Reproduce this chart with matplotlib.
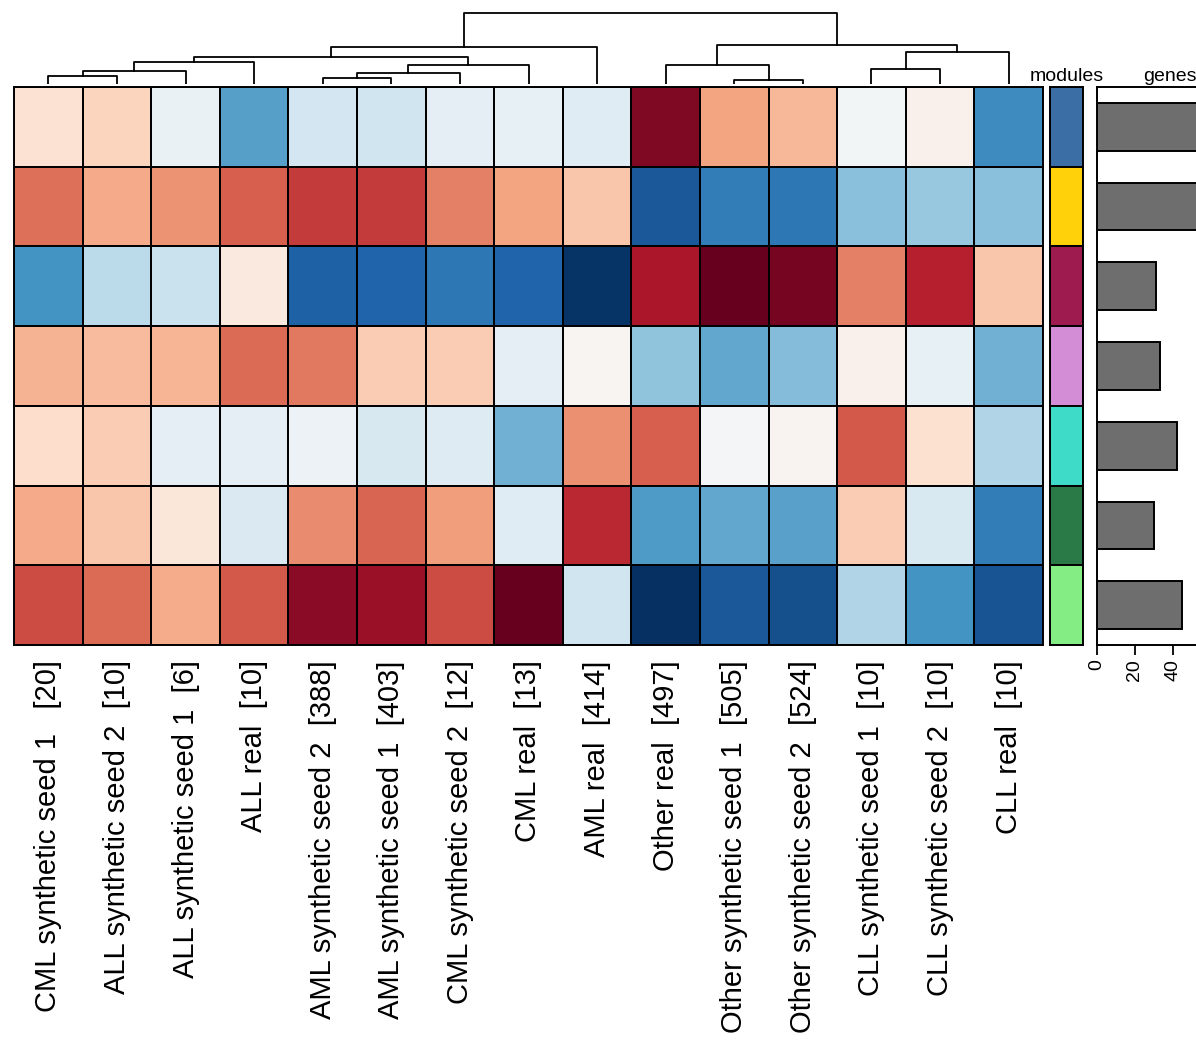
import numpy as np
import matplotlib
matplotlib.use("Agg")
import matplotlib.pyplot as plt

plt.rcParams['font.family'] = ['Liberation Sans', 'DejaVu Sans']

samples = ["CML synthetic seed 1   [20]", "ALL synthetic seed 2  [10]", "ALL synthetic seed 1  [6]",
           "ALL real  [10]", "AML synthetic seed 2  [388]", "AML synthetic seed 1  [403]",
           "CML synthetic seed 2  [12]", "CML real  [13]", "AML real  [414]", "Other real  [497]",
           "Other synthetic seed 1  [505]", "Other synthetic seed 2  [524]", "CLL synthetic seed 1  [10]",
           "CLL synthetic seed 2  [10]", "CLL real  [10]"]

# module scores, one row per module (top to bottom), columns in sample order
scores = np.array([
    [0.15, 0.22, -0.07, -0.55, -0.18, -0.20, -0.10, -0.08, -0.12, 0.93, 0.40, 0.33, -0.03, 0.05, -0.63],
    [0.55, 0.38, 0.45, 0.60, 0.70, 0.70, 0.50, 0.40, 0.28, -0.85, -0.70, -0.72, -0.42, -0.38, -0.42],
    [-0.60, -0.27, -0.22, 0.10, -0.82, -0.80, -0.72, -0.80, -0.98, 0.82, 1.00, 0.96, 0.50, 0.78, 0.28],
    [0.35, 0.32, 0.34, 0.57, 0.53, 0.25, 0.25, -0.10, 0.02, -0.40, -0.52, -0.43, 0.05, -0.08, -0.48],
    [0.18, 0.25, -0.10, -0.10, -0.06, -0.17, -0.13, -0.48, 0.46, 0.60, -0.02, 0.03, 0.61, 0.16, -0.30],
    [0.38, 0.28, 0.12, -0.15, 0.47, 0.58, 0.42, -0.12, 0.75, -0.57, -0.52, -0.54, 0.25, -0.16, -0.70],
    [0.65, 0.57, 0.37, 0.61, 0.90, 0.86, 0.65, 1.00, -0.20, -1.00, -0.85, -0.88, -0.30, -0.60, -0.86],
])

module_colors = ["#3a6ea5", "#ffd10a", "#9e1b4f", "#d38cd6", "#3ddbc8", "#2a7a48", "#84ee84"]
genes = [62, 58, 31, 33, 42, 30, 45]
gene_ticks = [0, 20, 40]

# column dendrogram: (left, right, height); new nodes numbered from 15 upward
merges = [
    (0, 1, 8), (15, 2, 13), (16, 3, 22), (4, 5, 6), (18, 6, 11), (19, 7, 19),
    (17, 20, 27), (21, 8, 37), (10, 11, 4), (9, 23, 19), (12, 13, 15), (25, 14, 32),
    (24, 26, 39), (22, 27, 71),
]

W, H = 1196, 1053
fig = plt.figure(figsize=(W / 100, H / 100), dpi=100)


def box(x0, y0, x1, y1):
    return [x0 / W, 1 - y1 / H, (x1 - x0) / W, (y1 - y0) / H]


nrow, ncol = scores.shape

# heatmap
ax = fig.add_axes(box(14, 87, 1043, 645))
ax.pcolormesh(scores, cmap="RdBu_r", vmin=-1, vmax=1, edgecolors="black", linewidth=1.4)
ax.set_xlim(0, ncol)
ax.set_ylim(nrow, 0)
ax.set_yticks([])
ax.set_xticks(np.arange(ncol) + 0.5)
ax.set_xticklabels(samples, rotation=90, fontsize=21, va="top")
ax.tick_params(axis="x", length=0, pad=11)
for s in ax.spines.values():
    s.set_linewidth(1.4)

# dendrogram
axd = fig.add_axes(box(14, 10, 1043, 84))
pos = {i: i + 0.5 for i in range(ncol)}
hgt = {i: 0 for i in range(ncol)}
for k, (a, b, h) in enumerate(merges):
    axd.plot([pos[a], pos[a], pos[b], pos[b]], [hgt[a], h, h, hgt[b]], color="black", lw=1.3)
    pos[ncol + k] = (pos[a] + pos[b]) / 2
    hgt[ncol + k] = h
axd.set_xlim(0, ncol)
axd.set_ylim(0, 74)
axd.axis("off")

# module colour bar
axm = fig.add_axes(box(1050, 87, 1083, 645))
for i, c in enumerate(module_colors):
    axm.add_patch(plt.Rectangle((0, i), 1, 1, facecolor=c, edgecolor="black", lw=1.4))
axm.set_xlim(0, 1)
axm.set_ylim(nrow, 0)
axm.set_xticks([])
axm.set_yticks([])
for s in axm.spines.values():
    s.set_linewidth(1.4)
axm.set_title("modules", fontsize=14, pad=4)

# gene counts (panel runs past the right edge, as in the original)
axb = fig.add_axes(box(1097, 87, 1243, 645))
axb.barh(np.arange(nrow) + 0.5, genes, height=0.6, color="#6e6e6e", edgecolor="black", lw=1.4)
axb.set_xlim(0, 77)
axb.set_ylim(nrow, 0)
axb.set_yticks([])
axb.set_xticks(gene_ticks)
axb.tick_params(axis="x", labelrotation=90, labelsize=14, width=1.3, length=7)
for s in axb.spines.values():
    s.set_linewidth(1.4)
axb.set_title("genes", fontsize=14, pad=4)

fig.savefig("out.png", dpi=100)
